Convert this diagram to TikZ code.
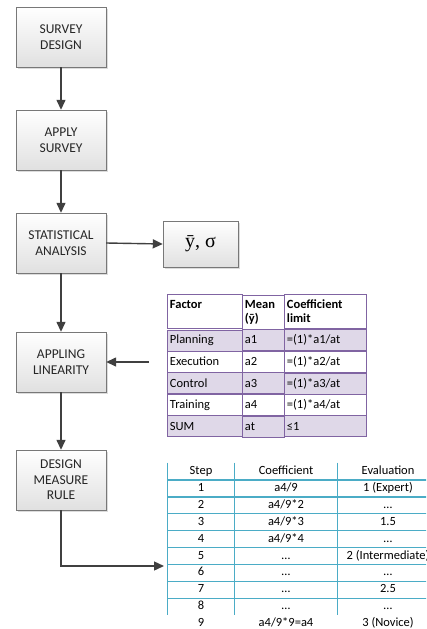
\documentclass[tikz,border=0pt]{standalone}
\usepackage{fontspec}
\setmainfont{Carlito}
\newfontfamily\symserif{Liberation Serif}
\usepackage{tikz}
\usetikzlibrary{arrows.meta,positioning,matrix,shadows}
\definecolor{boxline}{RGB}{120,120,120}
\definecolor{arrowgray}{RGB}{64,64,64}
\definecolor{facpurple}{RGB}{128,100,162}
\definecolor{stepcyan}{RGB}{75,172,198}

\begin{document}
\begin{tikzpicture}[
  x=1pt, y=-1pt,
  font=\fontsize{12.5}{14}\selectfont,
  box/.style   = {draw=boxline, top color=white, bottom color=black!12,
                  minimum width=90pt, minimum height=60pt, align=center,
                  inner sep=2pt, text=black!85,
                  font=\fontsize{13.5}{15.5}\selectfont,
                  drop shadow={shadow xshift=1.5pt, shadow yshift=-1.5pt,
                               opacity=0.3, fill=black!45}},
  result/.style= {box, minimum width=75pt, minimum height=46pt,
                  font=\symserif\fontsize{20}{22}\selectfont, text=black},
  flow/.style  = {-{Triangle[length=10pt,width=9pt]}, draw=arrowgray,
                  line width=1.4pt},
  factab/.style= {matrix of nodes, row sep=-0.8pt, column sep=-0.8pt,
                  nodes={draw=facpurple, line width=0.8pt, align=left,
                         inner xsep=3pt, inner ysep=1pt, minimum height=21pt,
                         outer sep=0pt},
                  column 1/.style={nodes={text width=69pt}},
                  column 2/.style={nodes={text width=36pt}},
                  column 3/.style={nodes={text width=76pt}},
                  row 1/.style={nodes={minimum height=34pt,
                                font=\fontsize{12.5}{14}\selectfont\bfseries}},
                  row 2/.style={nodes={fill=facpurple!25}},
                  row 4/.style={nodes={fill=facpurple!25}},
                  row 6/.style={nodes={fill=facpurple!25}}},
  steptab/.style={matrix of nodes, row sep=0pt, column sep=0pt,
                  nodes={inner sep=0pt, minimum height=16.9pt, outer sep=0pt,
                         text height=8.5pt, text depth=2.5pt, anchor=center},
                  column 1/.style={nodes={minimum width=67pt}},
                  column 2/.style={nodes={minimum width=103pt}},
                  column 3/.style={nodes={minimum width=101pt}},
                  row 1/.style={nodes={minimum height=17.5pt}}},
  grid/.style  = {draw=stepcyan, line width=1.2pt}
]
\useasboundingbox (0,0) rectangle (426,629);
\clip (0,0) rectangle (426,629);

%%%%%%%%%%%%%%%%%%%%%%% FLOW OF STEPS %%%%%%%%%%%%%%%%%%%%%%%%%%%%%%%%%%%%%%%%
\node[box] (design) at (61,37)  {SURVEY\\DESIGN};
\node[box] (apply)  at (61,140) {APPLY\\SURVEY};
\node[box] (stat)   at (61,243) {STATISTICAL\\ANALYSIS};
\node[box] (linear) at (61,362) {APPLING\\LINEARITY};
\node[box] (rule)   at (61,480) {DESIGN\\MEASURE\\RULE};

\node[result] (stats) at (200.5,244) {ȳ, σ};

\draw[flow] (design.south) -- (apply.north);
\draw[flow] (apply.south) -- (stat.north);
\draw[flow] (stat.south) -- (linear.north);
\draw[flow] (linear.south) -- (rule.north);
\draw[flow] (stat.east) -- (stats.west);

%%%%%%%%%%%%%%%%%%%%%%% FACTOR TABLE %%%%%%%%%%%%%%%%%%%%%%%%%%%%%%%%%%%%%%%%%
\matrix[factab, anchor=north west] (factors) at (163,290) {
  {Factor\\\mbox{}} & {Mean\\(ȳ)} & {Coefficient\\limit} \\
  Planning  & a1 & =(1)*a1/at \\
  Execution & a2 & =(1)*a2/at \\
  Control   & a3 & =(1)*a3/at \\
  Training  & a4 & =(1)*a4/at \\
  SUM       & at & ≤1 \\
};
\coordinate (linin) at (149,362);
\draw[flow] (linin) -- (linear.east);

%%%%%%%%%%%%%%%%%%%%%%% STEP TABLE %%%%%%%%%%%%%%%%%%%%%%%%%%%%%%%%%%%%%%%%%%%
\matrix[steptab, anchor=north west] (steps) at (164,459) {
  Step & Coefficient & Evaluation \\
  1 & a4/9       & 1 (Expert) \\
  2 & a4/9*2     & … \\
  3 & a4/9*3     & 1.5 \\
  4 & a4/9*4     & … \\
  5 & …          & 2 (Intermediate) \\
  6 & …          & … \\
  7 & …          & 2.5 \\
  8 & …          & … \\
  9 & a4/9*9=a4  & 3 (Novice) \\
};
\foreach \r in {1,...,8}
  \draw[grid] (steps-\r-1.south west) -- (steps-\r-3.south east);
\foreach \c in {1,2,3}
  \draw[grid] (steps-1-\c.north west) -- (steps-9-\c.south west);

\coordinate (stepin) at (164,566);
\draw[flow] (rule.south) |- (stepin);

\end{tikzpicture}
\end{document}
